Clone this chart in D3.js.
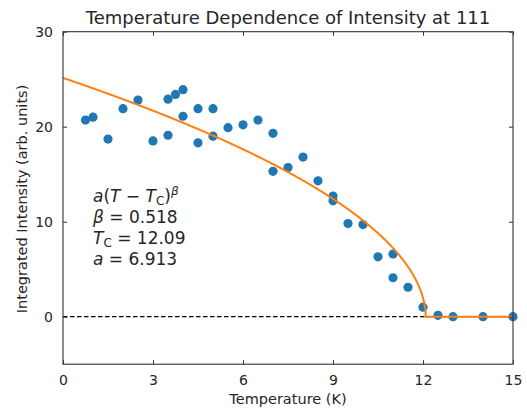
<!DOCTYPE html>
<html><head><meta charset="utf-8">
<script src="https://cdn.jsdelivr.net/npm/d3@7"></script>
<style>
body{margin:0;background:#fff;}
text{font-family:"DejaVu Sans",sans-serif;fill:#262626;}
</style></head>
<body>
<svg id="chart" width="527" height="409"></svg>
<script>
const temperatures = [0.75,1,1.5,2,2.5,3,3.5,3.5,3.75,4,4,4.5,4.5,5,5,5.5,6,6.5,7,7,7.5,8,8.5,9,9,9.5,10,10.5,11,11,11.5,12,12.5,13,14,15];
const intensities  = [20.7,21.0,18.7,21.9,22.8,18.5,22.9,19.1,23.4,23.9,21.1,21.9,18.3,21.9,19.0,19.9,20.2,20.7,19.3,15.3,15.7,16.8,14.3,12.7,12.2,9.8,9.7,6.3,6.6,4.1,3.1,1.0,0.15,0,0,0];
const fitParams = {a: 6.913, beta: 0.518, Tc: 12.09};
const xTicks = [0,3,6,9,12,15];
const yTicks = [0,10,20,30];
const xDomain = [0,15];
const yDomain = [-5,30];

const svg = d3.select("#chart");
const L=63, R=513, T=31.7, B=364.2;
const x = d3.scaleLinear().domain(xDomain).range([L,R]);
const y = d3.scaleLinear().domain(yDomain).range([B,T]);

// fit curve
const fitT = d3.range(0, 2001).map(i => xDomain[0] + (xDomain[1]-xDomain[0])*i/2000);
fitT.push(fitParams.Tc);
fitT.sort((p,q)=>p-q);
const fitData = fitT.map(t => [t, t < fitParams.Tc ? fitParams.a*Math.pow(fitParams.Tc - t, fitParams.beta) : 0]);

const g = svg.append("g");
g.append("defs").append("clipPath").attr("id","clip").append("rect")
 .attr("x",L).attr("y",T).attr("width",R-L).attr("height",B-T);

// dashed zero line
g.append("line").attr("x1",x(0)).attr("x2",x(15)).attr("y1",y(0)).attr("y2",y(0))
 .attr("stroke","#000").attr("stroke-width",1.2).attr("stroke-dasharray","4.5,2.5");

// points
g.append("g").selectAll("circle").data(temperatures.map((t,i)=>[t,intensities[i]])).join("circle")
 .attr("cx",d=>x(d[0])).attr("cy",d=>y(d[1])).attr("r",4.6).attr("fill","#1f77b4");

// fit line
g.append("path").datum(fitData).attr("clip-path","url(#clip)")
 .attr("d", d3.line().x(d=>x(d[0])).y(d=>y(d[1])))
 .attr("fill","none").attr("stroke","#ff7f0e").attr("stroke-width",2);

// axes with inward ticks
function styleAxis(sel){
  sel.select(".domain").remove();
  sel.selectAll(".tick line").attr("stroke","#333").attr("stroke-width",1);
  sel.selectAll(".tick text").attr("font-size","14px").attr("fill","#262626").attr("font-family","DejaVu Sans");
}
const xb = svg.append("g").attr("transform",`translate(0,${B})`)
 .call(d3.axisBottom(x).tickValues(xTicks).tickSizeInner(-4).tickSizeOuter(0).tickPadding(11));
styleAxis(xb);
const xt = svg.append("g").attr("transform",`translate(0,${T})`)
 .call(d3.axisTop(x).tickValues(xTicks).tickSizeInner(-4).tickSizeOuter(0).tickFormat(""));
styleAxis(xt);
const yl = svg.append("g").attr("transform",`translate(${L},0)`)
 .call(d3.axisLeft(y).tickValues(yTicks).tickSizeInner(-4).tickSizeOuter(0).tickPadding(10));
styleAxis(yl);
const yr = svg.append("g").attr("transform",`translate(${R},0)`)
 .call(d3.axisRight(y).tickValues(yTicks).tickSizeInner(-4).tickSizeOuter(0).tickFormat(""));
styleAxis(yr);

// frame
svg.append("rect").attr("x",L).attr("y",T).attr("width",R-L).attr("height",B-T)
 .attr("fill","none").attr("stroke","#333").attr("stroke-width",1.1);

// title and labels
svg.append("text").attr("x",(L+R)/2).attr("y",23.5).attr("text-anchor","middle")
 .attr("font-size","18px").text("Temperature Dependence of Intensity at 111");
svg.append("text").attr("x",(L+R)/2).attr("y",404).attr("text-anchor","middle")
 .attr("font-size","14.5px").text("Temperature (K)");
svg.append("text").attr("transform",`translate(27,${(T+B)/2 + 1}) rotate(-90)`).attr("text-anchor","middle")
 .attr("font-size","14.5px").text("Integrated Intensity (arb. units)");

// annotation
const ax = 93, fs = "17px";
const l1 = svg.append("text").attr("x",ax).attr("y",202).attr("font-size",fs);
l1.append("tspan").attr("font-style","italic").text("a");
l1.append("tspan").text("(");
l1.append("tspan").attr("font-style","italic").text("T");
l1.append("tspan").text(" \u2212 ");
l1.append("tspan").attr("font-style","italic").text("T");
l1.append("tspan").attr("font-size","12px").attr("dy",3).text("C");
l1.append("tspan").attr("dy",-3).text(")");
l1.append("tspan").attr("font-style","italic").attr("font-size","12px").attr("dy",-7).text("\u03b2");

const l2 = svg.append("text").attr("x",ax).attr("y",223).attr("font-size",fs);
l2.append("tspan").attr("font-style","italic").text("\u03b2");
l2.append("tspan").text(" = " + fitParams.beta.toFixed(3));

const l3 = svg.append("text").attr("x",ax).attr("y",244).attr("font-size",fs);
l3.append("tspan").attr("font-style","italic").text("T");
l3.append("tspan").attr("font-size","12px").attr("dy",3).text("C");
l3.append("tspan").attr("dy",-3).text(" = " + fitParams.Tc.toFixed(2));

const l4 = svg.append("text").attr("x",ax).attr("y",265).attr("font-size",fs);
l4.append("tspan").attr("font-style","italic").text("a");
l4.append("tspan").text(" = " + fitParams.a.toFixed(3));
</script>
</body></html>
